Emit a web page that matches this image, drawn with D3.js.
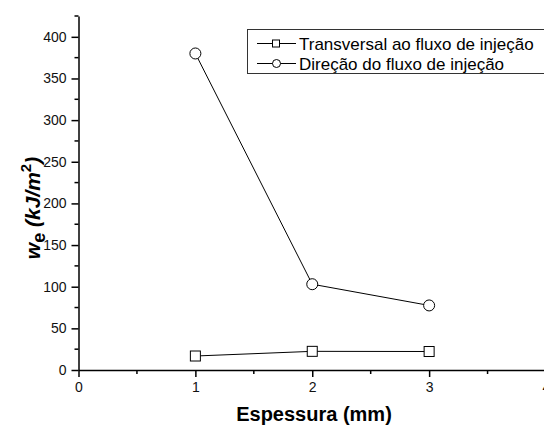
<!DOCTYPE html>
<html>
<head>
<meta charset="utf-8">
<script src="https://cdn.jsdelivr.net/npm/d3@7"></script>
<style>
  body { margin: 0; background: #fff; }
  svg { display: block; font-family: Arial, "Liberation Sans", sans-serif; }
</style>
</head>
<body>
<svg id="chart" width="544" height="428"></svg>
<script>
var espessura = [1, 2, 3];
var transversal = [16.8, 22.4, 22.2];
var direcao = [380, 103, 77.5];
var seriesNames = ["Transversal ao fluxo de injeção", "Direção do fluxo de injeção"];
var xTicks = [0, 1, 2, 3, 4];
var yTicks = [0, 50, 100, 150, 200, 250, 300, 350, 400];

var svg = d3.select("#chart");

var x = d3.scaleLinear().domain([0, 4]).range([78.5, 546]);
var y = d3.scaleLinear().domain([0, 425]).range([370, 16]);

// minor ticks
var xMinor = d3.range(0.5, 4, 1);
var yMinor = d3.range(25, 426, 50);

var gx = svg.append("g").attr("transform", "translate(0," + y(0) + ")");
gx.call(d3.axisBottom(x).tickValues(xTicks).tickFormat(d3.format("d")).tickSizeInner(7).tickSizeOuter(0).tickPadding(5));
gx.selectAll(".minor").data(xMinor).enter().append("line")
  .attr("x1", function(d){return x(d);}).attr("x2", function(d){return x(d);})
  .attr("y1", 0).attr("y2", 4).attr("stroke", "#000").attr("stroke-width", 1.5);

var gy = svg.append("g").attr("transform", "translate(" + x(0) + ",0)");
gy.call(d3.axisLeft(y).tickValues(yTicks).tickSizeInner(7).tickSizeOuter(0).tickPadding(5));
gy.selectAll(".minor").data(yMinor).enter().append("line")
  .attr("y1", function(d){return y(d);}).attr("y2", function(d){return y(d);})
  .attr("x1", 0).attr("x2", -4).attr("stroke", "#000").attr("stroke-width", 1.5);

svg.selectAll(".domain").attr("stroke", "#000").attr("stroke-width", 1.5);
svg.selectAll(".tick line").attr("stroke", "#000").attr("stroke-width", 1.5);
svg.selectAll(".tick text").attr("font-size", 14).attr("fill", "#111")
  .attr("font-family", "Arial, 'Liberation Sans', sans-serif");

var line = d3.line()
  .x(function(d){return x(d[0]);})
  .y(function(d){return y(d[1]);});

var sq = d3.zip(espessura, transversal);
var ci = d3.zip(espessura, direcao);

svg.append("path").datum(sq).attr("d", line)
  .attr("fill", "none").attr("stroke", "#000").attr("stroke-width", 1);
svg.append("path").datum(ci).attr("d", line)
  .attr("fill", "none").attr("stroke", "#000").attr("stroke-width", 1);

svg.selectAll(".sq").data(sq).enter().append("rect")
  .attr("x", function(d){return x(d[0]) - 5;})
  .attr("y", function(d){return y(d[1]) - 5;})
  .attr("width", 10).attr("height", 10)
  .attr("fill", "#fff").attr("stroke", "#000").attr("stroke-width", 1);

svg.selectAll(".ci").data(ci).enter().append("circle")
  .attr("cx", function(d){return x(d[0]);})
  .attr("cy", function(d){return y(d[1]);})
  .attr("r", 5.5)
  .attr("fill", "#fff").attr("stroke", "#000").attr("stroke-width", 1);

// legend
var lg = svg.append("g");
lg.append("rect").attr("x", 247.5).attr("y", 29.5).attr("width", 310).attr("height", 44)
  .attr("fill", "#fff").attr("stroke", "#333").attr("stroke-width", 1);
seriesNames.forEach(function(name, i){
  var ly = 43.5 + i * 20;
  lg.append("line").attr("x1", 257).attr("x2", 296).attr("y1", ly).attr("y2", ly)
    .attr("stroke", "#000").attr("stroke-width", 1);
  if (i === 0) {
    lg.append("rect").attr("x", 272.5).attr("y", ly - 3.5).attr("width", 7).attr("height", 7)
      .attr("fill", "#fff").attr("stroke", "#000");
  } else {
    lg.append("circle").attr("cx", 276.5).attr("cy", ly).attr("r", 4)
      .attr("fill", "#fff").attr("stroke", "#000");
  }
  lg.append("text").attr("x", 299).attr("y", ly + 6).attr("font-size", 17)
    .attr("fill", "#000").text(name);
});

// axis titles
svg.append("text").attr("x", 314).attr("y", 421).attr("text-anchor", "middle")
  .attr("font-size", 20).attr("font-weight", "bold").text("Espessura (mm)");

var yt = svg.append("text")
  .attr("transform", "translate(40,208) rotate(-90)")
  .attr("text-anchor", "middle").attr("font-size", 21).attr("font-weight", "bold");
yt.append("tspan").attr("font-style", "italic").text("w");
yt.append("tspan").attr("dy", 5).attr("font-size", 18).text("e");
yt.append("tspan").attr("dy", -5).attr("font-style", "italic").text(" (kJ/m");
yt.append("tspan").attr("dy", -9).attr("font-size", 15).text("2");
yt.append("tspan").attr("dy", 9).attr("font-style", "italic").text(")");
</script>
</body>
</html>
